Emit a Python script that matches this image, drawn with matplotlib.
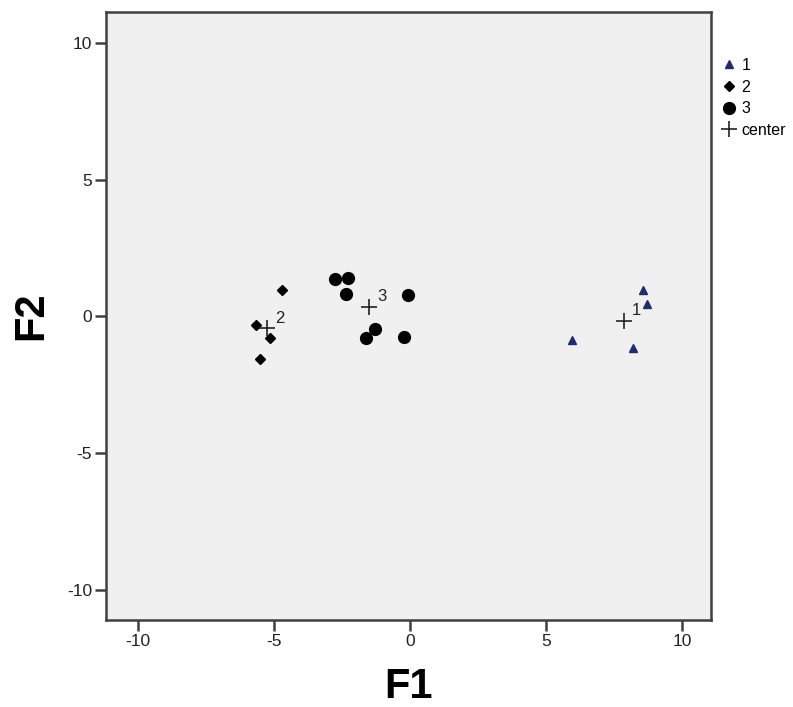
import numpy as np
import matplotlib.pyplot as plt

plt.rcParams['font.family'] = ['Liberation Sans', 'DejaVu Sans']
plt.rcParams['axes.unicode_minus'] = False

# discriminant scores per group
g1_f1 = [8.57, 8.69, 5.97, 8.19]
g1_f2 = [0.95, 0.44, -0.85, -1.17]
g2_f1 = [-4.69, -5.67, -5.16, -5.51]
g2_f2 = [0.95, -0.33, -0.79, -1.56]
g3_f1 = [-2.77, -2.28, -2.37, -0.08, -1.27, -1.62, -0.23]
g3_f2 = [1.38, 1.40, 0.83, 0.79, -0.45, -0.78, -0.76]

group_names = ['1', '2', '3']
ticks = [-10, -5, 0, 5, 10]

# group centroids
cx = [np.mean(g1_f1), np.mean(g2_f1), np.mean(g3_f1)]
cy = [np.mean(g1_f2), np.mean(g2_f2), np.mean(g3_f2)]

fig = plt.figure(figsize=(7.93, 7.07), dpi=100)
ax = fig.add_axes([0.1337, 0.1231, 0.7629, 0.8599])
ax.set_facecolor('#f0f0f0')

ax.plot(g1_f1, g1_f2, '^', color='#1f2d6e', ms=6, ls='none', label=group_names[0])
ax.plot(g2_f1, g2_f2, 'D', color='black', ms=5, ls='none', label=group_names[1])
ax.plot(g3_f1, g3_f2, 'o', color='black', ms=8.5, ls='none', label=group_names[2])
ax.plot(cx, cy, '+', color='#222222', ms=11, mew=1.2, ls='none', label='center')

for i in range(3):
    ax.annotate(group_names[i], (cx[i], cy[i]), xytext=(6, 4), textcoords='offset points',
                fontsize=12, color='#222222')

ax.set_xlim(-11.17, 11.06)
ax.set_ylim(-11.1, 11.13)
ax.set_xticks(ticks)
ax.set_yticks(ticks)
ax.tick_params(length=8, width=1.8, color='#404040', labelsize=12.5, labelcolor='#222222', pad=2)
for s in ax.spines.values():
    s.set_linewidth(1.8)
    s.set_color('#404040')

ax.set_xlabel('F1', fontsize=30, fontweight='bold', labelpad=13)
ax.set_ylabel('F2', fontsize=30, fontweight='bold')
ax.yaxis.set_label_coords(-0.09, 0.5)

leg = ax.legend(loc='upper left', bbox_to_anchor=(1.004, 0.935), frameon=False,
                fontsize=11.5, handletextpad=0.15, handlelength=1.2, labelspacing=0.42,
                borderaxespad=0)

plt.savefig('out.png')
